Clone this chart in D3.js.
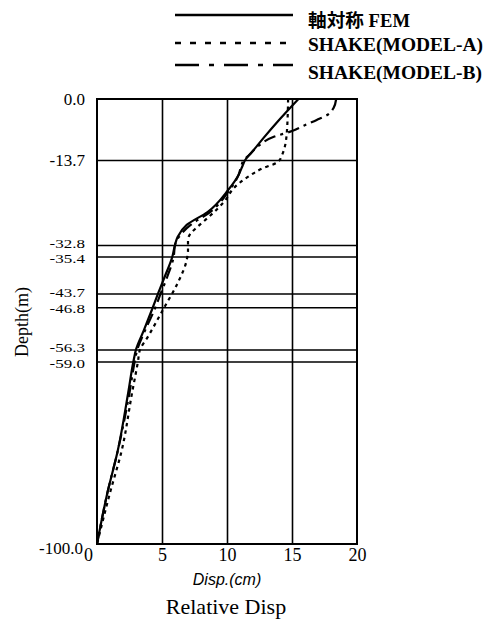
<!DOCTYPE html>
<html>
<head>
<meta charset="utf-8">
<script src="https://cdn.jsdelivr.net/npm/d3@7"></script>
<style>
body { margin: 0; background: #ffffff; }
svg { display: block; }
text { font-family: "Liberation Serif", "Noto Sans CJK JP", serif; fill: #000; }
</style>
</head>
<body>
<div id="chart"></div>
<script>
var seriesNames = ["軸対称 FEM", "SHAKE(MODEL-A)", "SHAKE(MODEL-B)"];
var layerDepths = [0.0, -13.7, -32.8, -35.4, -43.7, -46.8, -56.3, -59.0, -100.0];
var dispTicks = [0, 5, 10, 15, 20];

var femDepth = [0, -5.4, -8.8, -12.0, -13.7, -15.0, -17.0, -20.4, -25.4, -28.3, -31.0, -32.8, -35.4, -40.0, -43.7, -46.8, -52.0, -56.3, -59.0, -66.0, -79.0, -88.5, -100];
var femDisp = [15.5, 13.8, 12.8, 11.9, 11.4, 11.2, 10.9, 10.1, 8.5, 6.9, 6.2, 6.0, 5.8, 5.2, 4.7, 4.3, 3.6, 3.0, 2.8, 2.4, 1.6, 0.8, 0];

var modelADepth = [0, -7.6, -12.1, -14.2, -15.5, -17.5, -19.8, -23.0, -26.5, -28.8, -30.2, -31.7, -34.0, -36.2, -41.4, -46.7, -53.5, -56.4, -59.0, -66.0, -79.0, -88.5, -100];
var modelADisp = [14.7, 14.6, 14.3, 13.9, 12.8, 11.6, 10.6, 9.8, 8.6, 7.7, 7.2, 7.0, 7.0, 6.9, 6.2, 5.2, 3.9, 3.3, 3.15, 2.7, 1.9, 1.0, 0];

var modelBDepth = [0, -2.0, -3.6, -4.7, -6.0, -7.2, -8.5, -10.8, -12.6, -13.7, -15.0, -17.0, -20.4, -25.4, -28.3, -31.0, -32.8, -35.4, -40.0, -43.7, -46.8, -52.0, -56.3, -59.0, -66.0, -79.0, -88.5, -100];
var modelBDisp = [18.4, 18.2, 17.7, 16.9, 15.9, 15.0, 13.6, 12.3, 11.7, 11.3, 11.1, 10.9, 10.2, 8.7, 7.2, 6.3, 6.0, 5.9, 5.4, 4.9, 4.5, 3.7, 3.1, 2.9, 2.5, 1.6, 0.8, 0];

var W = 489, H = 620;
var plot = { left: 97, right: 357, top: 99, bottom: 544 };

var svg = d3.select("#chart").append("svg").attr("width", W).attr("height", H);

var x = d3.scaleLinear().domain([0, 20]).range([plot.left, plot.right]);
var y = d3.scaleLinear().domain([0, -100]).range([plot.top, plot.bottom]);

function zip(depths, disps) {
    return depths.map(function(d, i) { return { depth: d, disp: disps[i] }; });
}

var series = [
    { name: seriesNames[0], points: zip(femDepth, femDisp), dash: null, legendDash: null },
    { name: seriesNames[1], points: zip(modelADepth, modelADisp), dash: "3.5,4", legendDash: "6,9" },
    { name: seriesNames[2], points: zip(modelBDepth, modelBDisp), dash: "12,5,3,5", legendDash: "24,10,5,10" }
];

// grid: vertical lines at disp ticks, horizontal lines at layer boundaries
svg.append("g")
    .attr("transform", "translate(0," + plot.bottom + ")")
    .call(d3.axisBottom(x).tickValues(dispTicks.slice(1, -1)).tickSize(-(plot.bottom - plot.top)).tickFormat(""))
    .call(function(g) { g.select(".domain").remove(); })
    .selectAll("line").attr("stroke", "#000").attr("stroke-width", 1.6);

svg.append("g")
    .attr("transform", "translate(" + plot.left + ",0)")
    .call(d3.axisLeft(y).tickValues(layerDepths.slice(1, -1)).tickSize(-(plot.right - plot.left)).tickFormat(""))
    .call(function(g) { g.select(".domain").remove(); })
    .selectAll("line").attr("stroke", "#000").attr("stroke-width", 1.6);

// tick labels; the close pairs are squashed a bit and pushed apart, like in the scan
var nudge = { "-32.8": -2, "-35.4": 2, "-43.7": -1, "-46.8": 1, "-56.3": -2, "-59.0": 2 };
var yAxis = svg.append("g")
    .attr("transform", "translate(" + plot.left + ",0)")
    .call(d3.axisLeft(y).tickValues(layerDepths).tickSize(0).tickPadding(12)
        .tickFormat(function(d) { return d.toFixed(1); }));
yAxis.select(".domain").remove();
yAxis.selectAll("text")
    .attr("font-size", 17).style("font-family", "Liberation Serif").attr("fill", "#000")
    .attr("transform", function(d) {
        var k = d.toFixed(1);
        if (nudge[k] == undefined) return null;
        return "translate(0," + nudge[k] + ") scale(1,0.75)";
    });
yAxis.selectAll(".tick").filter(function(d) { return d == -100; })
    .select("text").attr("dx", -2).attr("y", 4);

var xAxis = svg.append("g")
    .attr("transform", "translate(0," + plot.bottom + ")")
    .call(d3.axisBottom(x).tickValues(dispTicks).tickSize(0).tickPadding(4));
xAxis.select(".domain").remove();
xAxis.selectAll("text").attr("font-size", 18).style("font-family", "Liberation Serif").attr("fill", "#000");
xAxis.selectAll(".tick").filter(function(d) { return d == 0; })
    .select("text").attr("dx", -9);

// frame
svg.append("rect")
    .attr("x", plot.left).attr("y", plot.top)
    .attr("width", plot.right - plot.left).attr("height", plot.bottom - plot.top)
    .attr("fill", "none").attr("stroke", "#000").attr("stroke-width", 2);

var line = d3.line()
    .x(function(d) { return x(d.disp); })
    .y(function(d) { return y(d.depth); })
    .curve(d3.curveMonotoneY);

svg.append("g").selectAll("path")
    .data(series)
    .join("path")
    .attr("d", function(s) { return line(s.points); })
    .attr("fill", "none")
    .attr("stroke", "#000")
    .attr("stroke-width", 2.2)
    .attr("stroke-dasharray", function(s) { return s.dash; });

// axis titles
svg.append("text")
    .attr("x", 227).attr("y", 585)
    .attr("text-anchor", "middle")
    .attr("font-size", 16).attr("font-style", "italic")
    .style("font-family", "Liberation Sans")
    .text("Disp.(cm)");

svg.append("text")
    .attr("x", 226).attr("y", 614)
    .attr("text-anchor", "middle")
    .attr("font-size", 22)
    .text("Relative Disp");

svg.append("text")
    .attr("transform", "translate(28,322) rotate(-90)")
    .attr("text-anchor", "middle")
    .attr("font-size", 18)
    .text("Depth(m)");

// legend
var legendLineY = [15, 43, 65];
var legendTextY = [27, 51, 79];
var legendTextW = [102, 175, 174];
var legend = svg.append("g").selectAll("g")
    .data(series)
    .join("g");
legend.append("line")
    .attr("x1", 175).attr("x2", 293)
    .attr("y1", function(s, i) { return legendLineY[i]; })
    .attr("y2", function(s, i) { return legendLineY[i]; })
    .attr("stroke", "#000").attr("stroke-width", 2.5)
    .attr("stroke-dasharray", function(s) { return s.legendDash; });
legend.append("text")
    .attr("x", 308)
    .attr("y", function(s, i) { return legendTextY[i]; })
    .attr("font-size", 18).attr("font-weight", "bold")
    .attr("textLength", function(s, i) { return legendTextW[i]; })
    .attr("lengthAdjust", "spacingAndGlyphs")
    .text(function(s) { return s.name; });
</script>
</body>
</html>
